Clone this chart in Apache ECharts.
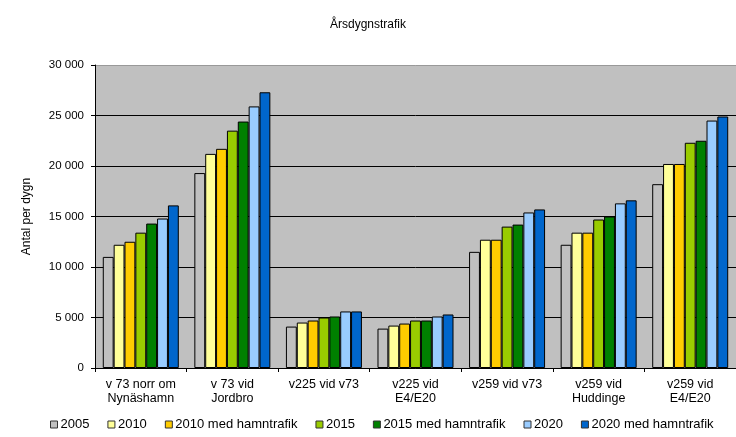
<!DOCTYPE html>
<html><head><meta charset="utf-8">
<script src="https://cdn.jsdelivr.net/npm/echarts@6/dist/echarts.min.js"></script>
<style>html,body{margin:0;padding:0;background:#fff}#c{width:736px;height:437px}</style>
</head><body><div id="c"></div>
<script>
const categories = ['v 73 norr om\nNynäshamn','v 73 vid\nJordbro','v225 vid v73','v225 vid\nE4/E20','v259 vid v73','v259 vid\nHuddinge','v259 vid\nE4/E20'];
const seriesNames = ['2005','2010','2010 med hamntrafik','2015','2015 med hamntrafik','2020','2020 med hamntrafik'];
const v2005   = [11000,19300,4100,3900,11500,12200,18200];
const v2010   = [12200,21200,4500,4200,12700,13400,20200];
const v2010mh = [12500,21700,4700,4400,12700,13400,20200];
const v2015   = [13400,23500,5000,4700,14000,14700,22300];
const v2015mh = [14300,24400,5100,4700,14200,15000,22500];
const v2020   = [14800,25900,5600,5100,15400,16300,24500];
const v2020mh = [16100,27300,5600,5300,15700,16600,24900];
const yTicks = [0,5000,10000,15000,20000,25000,30000];
const colors = ['#c0c0c0','#ffff99','#ffcc00','#99cc00','#008000','#99ccff','#0066cc'];
const allValues = [v2005,v2010,v2010mh,v2015,v2015mh,v2020,v2020mh];
const font = 'Liberation Sans, Arial, sans-serif';
const chart = echarts.init(document.getElementById('c'));
chart.setOption({
  animation:false,
  backgroundColor:'#fff',
  title:{text:'Årsdygnstrafik',left:'center',top:14,textStyle:{fontFamily:font,fontSize:12,fontWeight:'normal',color:'#000'}},
  legend:{bottom:1,left:45,itemWidth:7,itemHeight:7,itemGap:18,icon:'rect',
    textStyle:{fontFamily:font,fontSize:13,color:'#000',padding:[0,0,0,-2]},
    itemStyle:{borderColor:'#333',borderWidth:1},
    data:seriesNames},
  grid:{left:95,top:65,bottom:69,right:-10,show:true,backgroundColor:'#c0c0c0',borderWidth:0},
  xAxis:{type:'category',data:categories,
    axisLine:{lineStyle:{color:'#000',width:1}},
    axisTick:{show:true,length:4,lineStyle:{color:'#000'}},
    axisLabel:{interval:0,fontFamily:font,fontSize:12.5,color:'#000',lineHeight:14,margin:10}},
  yAxis:{type:'value',min:0,max:30000,interval:5000,
    name:'Antal per dygn',nameLocation:'middle',nameGap:62,nameRotate:90,
    nameTextStyle:{fontFamily:font,fontSize:12,color:'#000'},
    axisLine:{show:true,lineStyle:{color:'#000'}},
    axisTick:{show:true,length:4,lineStyle:{color:'#000'}},
    axisLabel:{fontFamily:font,fontSize:11.5,color:'#000',margin:11,
      formatter:v=>yTicks.includes(v)?(v>=1000?Math.floor(v/1000)+' '+String(v%1000).padStart(3,'0'):String(v)):''},
    splitLine:{show:true,lineStyle:{color:['#000','#000','#000','#000','#000','#000','#999'],width:1}}},
  series: seriesNames.map((n,i)=>({name:n,type:'bar',data:allValues[i],
    barGap:'0%',barCategoryGap:'17%',
    itemStyle:{color:colors[i],borderColor:'#000',borderWidth:1}}))
});
</script></body></html>
